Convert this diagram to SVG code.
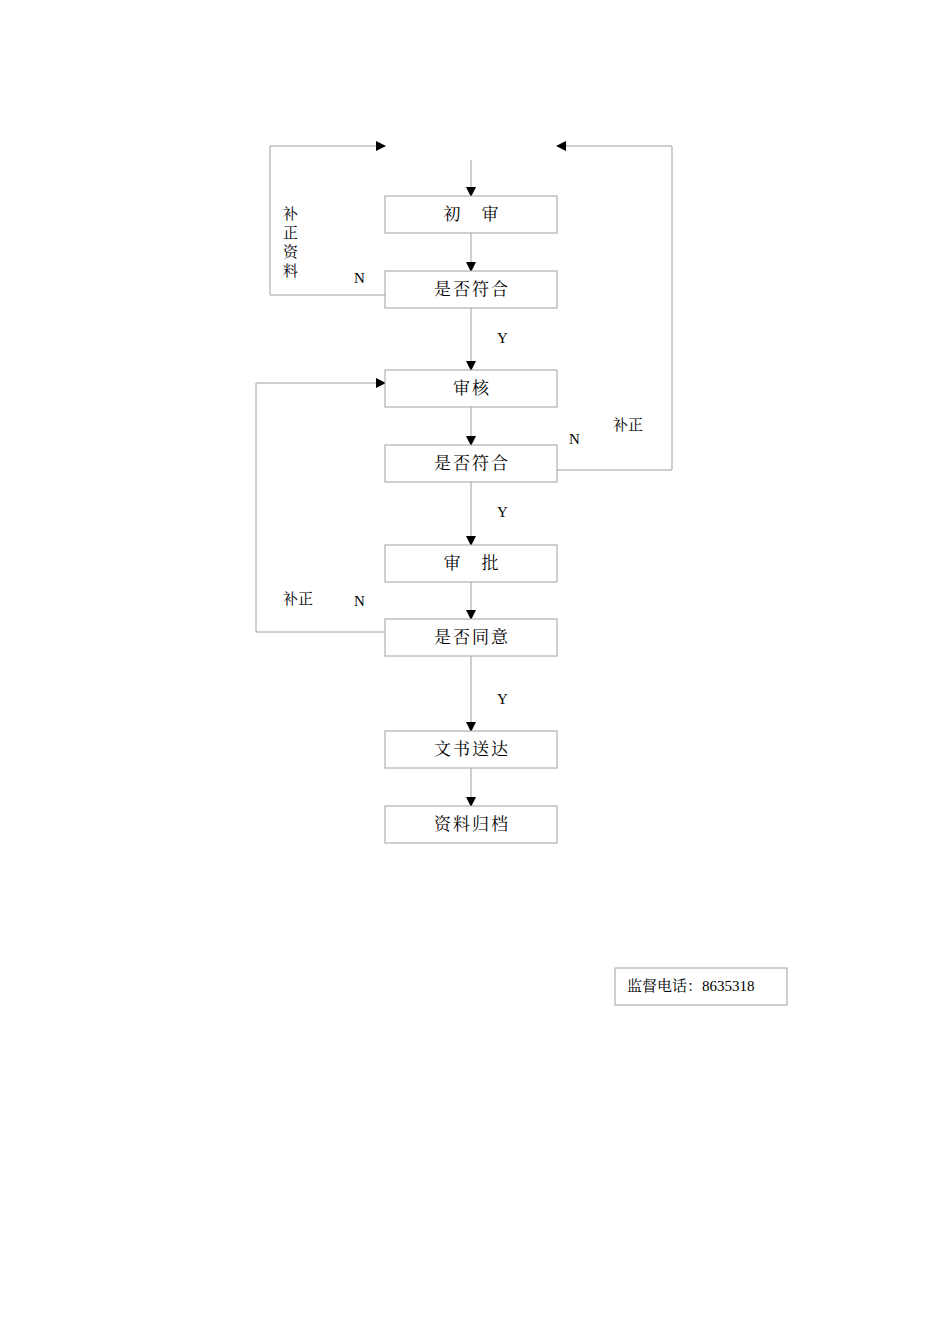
<svg xmlns="http://www.w3.org/2000/svg" width="950" height="1344" viewBox="0 0 950 1344">
<style>
.b{fill:#fff;stroke:#a0a0a0;stroke-width:1}
.l{fill:none;stroke:#a0a0a0;stroke-width:1}
.t{font-family:"Noto Serif CJK SC","Noto Sans CJK SC","Liberation Serif",serif;font-size:17px;fill:#000;text-anchor:middle;letter-spacing:2px}
.s{font-family:"Noto Serif CJK SC","Noto Sans CJK SC","Liberation Serif",serif;font-size:15px;fill:#000}
.y{font-family:"Liberation Serif",serif;font-size:15px;fill:#000}
</style>
<defs><marker id="a" markerWidth="10" markerHeight="10" refX="9" refY="5" orient="auto" markerUnits="userSpaceOnUse"><path d="M0,0L10,5L0,10z" fill="#000"/></marker></defs>
<rect width="950" height="1344" fill="#fff"/>
<g id="connectors">
<line class="l" x1="471" y1="160" x2="471" y2="196" marker-end="url(#a)"/>
<line class="l" x1="471" y1="233" x2="471" y2="271" marker-end="url(#a)"/>
<line class="l" x1="471" y1="308" x2="471" y2="370" marker-end="url(#a)"/>
<line class="l" x1="471" y1="407" x2="471" y2="445" marker-end="url(#a)"/>
<line class="l" x1="471" y1="482" x2="471" y2="545" marker-end="url(#a)"/>
<line class="l" x1="471" y1="582" x2="471" y2="619" marker-end="url(#a)"/>
<line class="l" x1="471" y1="656" x2="471" y2="731" marker-end="url(#a)"/>
<line class="l" x1="471" y1="768" x2="471" y2="806" marker-end="url(#a)"/>
<polyline class="l" points="385,295 270,295 270,146 385,146" marker-end="url(#a)"/>
<polyline class="l" points="557,470 672,470 672,146 557,146" marker-end="url(#a)"/>
<polyline class="l" points="385,632 256,632 256,383 385,383" marker-end="url(#a)"/>
</g>
<g id="n1"><rect class="b" x="385" y="196" width="172" height="37"/><text class="t" x="472" y="220">初　审</text></g>
<g id="n2"><rect class="b" x="385" y="271" width="172" height="37"/><text class="t" x="472" y="295">是否符合</text></g>
<g id="n3"><rect class="b" x="385" y="370" width="172" height="37"/><text class="t" x="472" y="394">审核</text></g>
<g id="n4"><rect class="b" x="385" y="445" width="172" height="37"/><text class="t" x="472" y="469">是否符合</text></g>
<g id="n5"><rect class="b" x="385" y="545" width="172" height="37"/><text class="t" x="472" y="569">审　批</text></g>
<g id="n6"><rect class="b" x="385" y="619" width="172" height="37"/><text class="t" x="472" y="643">是否同意</text></g>
<g id="n7"><rect class="b" x="385" y="731" width="172" height="37"/><text class="t" x="472" y="755">文书送达</text></g>
<g id="n8"><rect class="b" x="385" y="806" width="172" height="37"/><text class="t" x="472" y="830">资料归档</text></g>
<g id="n9"><rect class="b" x="615" y="968" width="172" height="37"/><text class="s" x="627" y="991" font-size="16">监督电话：<tspan font-family="Liberation Serif">8635318</tspan></text></g>
<g id="labels">
<text class="s" x="283" y="219">补</text><text class="s" x="283" y="238">正</text><text class="s" x="283" y="257">资</text><text class="s" x="283" y="276">料</text>
<text class="y" x="354" y="283">N</text>
<text class="y" x="497" y="343">Y</text>
<text class="y" x="569" y="444">N</text>
<text class="s" x="613" y="430">补正</text>
<text class="y" x="497" y="517">Y</text>
<text class="s" x="283" y="604">补正</text>
<text class="y" x="354" y="606">N</text>
<text class="y" x="497" y="704">Y</text>
</g>
</svg>
